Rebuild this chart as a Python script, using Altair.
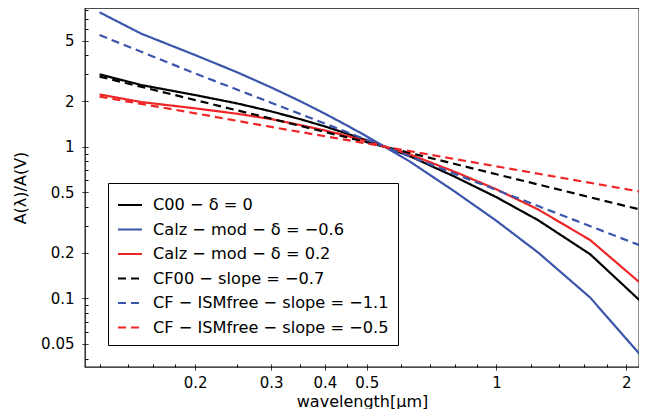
import altair as alt
import pandas as pd

# ---- data ----
wl_calz = [0.12, 0.15, 0.2, 0.25, 0.3, 0.35, 0.4, 0.45, 0.5, 0.55, 0.63, 0.8, 1.0, 1.25, 1.65, 2.2]
c00 = [3.0, 2.55, 2.19, 1.93, 1.71, 1.52, 1.36, 1.22, 1.10, 1.0, 0.865, 0.634, 0.464, 0.327, 0.195, 0.091]
calz_m06 = [7.7, 5.56, 4.02, 3.10, 2.46, 2.00, 1.65, 1.38, 1.17, 1.0, 0.797, 0.506, 0.324, 0.200, 0.101, 0.0396]
calz_p02 = [2.21, 1.97, 1.79, 1.65, 1.52, 1.39, 1.28, 1.18, 1.08, 1.0, 0.889, 0.683, 0.523, 0.385, 0.242, 0.120]

wl_pl = [0.12, 0.2, 0.3, 0.5, 0.55, 1.0, 2.2]
cf00 = [2.90, 2.03, 1.53, 1.07, 1.0, 0.658, 0.379]
cf_m11 = [5.45, 3.04, 1.95, 1.11, 1.0, 0.518, 0.218]
cf_m05 = [2.14, 1.66, 1.35, 1.05, 1.0, 0.742, 0.50]

labels = [
    "C00 − δ = 0",
    "Calz − mod − δ = −0.6",
    "Calz − mod − δ = 0.2",
    "CF00 − slope = −0.7",
    "CF − ISMfree − slope = −1.1",
    "CF − ISMfree − slope = −0.5",
]
colors = ["#000000", "#3b55ab", "#ee2526", "#000000", "#3b55ab", "#ee2526"]
dashes = [[1, 0], [1, 0], [1, 0], [8, 5], [8, 5], [8, 5]]

x_major = [0.2, 0.3, 0.4, 0.5, 1, 2]
x_minor = [0.12, 0.14, 0.16, 0.18, 0.25, 0.35, 0.45, 0.6, 0.7, 0.8, 0.9, 1.2, 1.4, 1.6, 1.8]
y_major = [0.05, 0.1, 0.2, 0.5, 1, 2, 5]
y_minor = [0.04, 0.06, 0.07, 0.08, 0.09, 0.3, 0.4, 0.6, 0.7, 0.8, 0.9, 3, 4, 6, 7, 8]

series = [
    (labels[0], wl_calz, c00),
    (labels[1], wl_calz, calz_m06),
    (labels[2], wl_calz, calz_p02),
    (labels[3], wl_pl, cf00),
    (labels[4], wl_pl, cf_m11),
    (labels[5], wl_pl, cf_m05),
]
rows = []
for name, xs, ys in series:
    for xv, yv in zip(xs, ys):
        rows.append({"series": name, "wl": xv, "A": yv})
df = pd.DataFrame(rows)

FONT = "DejaVu Sans"


def minor_test(majors):
    return "indexof(%s, datum.value) < 0" % str(majors)


def tick_dash(majors):
    return {"condition": {"test": minor_test(majors), "value": [3, 30]}, "value": [1, 0]}


def label_size(majors, size):
    return {"condition": {"test": minor_test(majors), "value": 0}, "value": size}


def label_expr(majors):
    return "indexof(%s, datum.value) >= 0 ? format(datum.value, '~g') : ''" % str(majors)


legend = alt.Legend(
    title=None,
    orient="none",
    legendX=23,
    legendY=175,
    direction="vertical",
    symbolType="stroke",
    symbolSize=576,
    symbolStrokeWidth=2,
    labelFont=FONT,
    labelFontSize=16.2,
    labelColor="black",
    labelOffset=10,
    labelLimit=500,
    fillColor="white",
    strokeColor="black",
    padding=9,
    rowPadding=2.5,
    cornerRadius=0,
)

chart = (
    alt.Chart(df)
    .mark_line(strokeWidth=2.2, clip=True)
    .encode(
        x=alt.X(
            "wl:Q",
            scale=alt.Scale(type="log", domain=[0.111, 2.141], nice=False),
            axis=alt.Axis(
                title="wavelength[μm]",
                values=x_major + x_minor,
                labelExpr=label_expr(x_major),
                labelFontSize=label_size(x_major, 15),
                labelOverlap=False,
                offset=-3,
                domain=False,
                grid=False,
                tickSize=6,
                tickColor="black",
                tickWidth=1,
                tickDash=tick_dash(x_major),
                labelPadding=5,
                titlePadding=3,
            ),
        ),
        y=alt.Y(
            "A:Q",
            scale=alt.Scale(type="log", domain=[0.0352, 8.22], nice=False),
            axis=alt.Axis(
                title="A(λ)/A(V)",
                values=y_major + y_minor,
                labelExpr=label_expr(y_major),
                labelFontSize=label_size(y_major, 15),
                labelOverlap=False,
                offset=-3,
                domain=False,
                grid=False,
                tickSize=6,
                tickColor="black",
                tickWidth=1,
                tickDash=tick_dash(y_major),
                labelPadding=8,
                titlePadding=12,
            ),
        ),
        color=alt.Color("series:N", scale=alt.Scale(domain=labels, range=colors), legend=legend),
        strokeDash=alt.StrokeDash("series:N", scale=alt.Scale(domain=labels, range=dashes), legend=legend),
    )
    .properties(width=554, height=359, padding={"left": 4, "top": 0, "right": 0, "bottom": 0})
    .configure_view(stroke="#111111", strokeWidth=1.3)
    .configure_axis(
        labelFont=FONT,
        labelColor="black",
        titleFont=FONT,
        titleFontSize=16,
        titleFontWeight="normal",
        titleColor="black",
    )
)

chart.save("out.html", embed_options={"renderer": "svg", "actions": False})
